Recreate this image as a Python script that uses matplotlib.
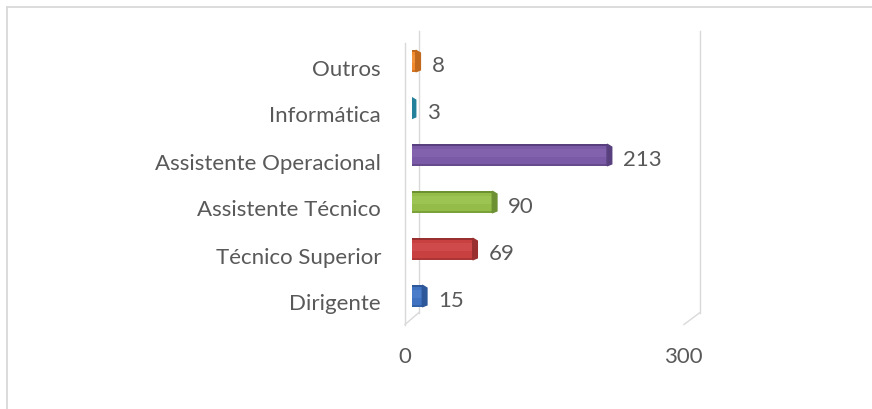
import matplotlib
matplotlib.use("Agg")
import matplotlib.pyplot as plt
from matplotlib.patches import Polygon
from matplotlib.lines import Line2D
from matplotlib.transforms import ScaledTranslation, blended_transform_factory

categories = ["Dirigente", "Técnico Superior", "Assistente Técnico",
              "Assistente Operacional", "Informática", "Outros"]
values = [15, 69, 90, 213, 3, 8]
x_ticks = [0, 300]

colors = ["#3f73c2", "#c94040", "#93bd48", "#7a59a6", "#34a3c2", "#f08a2c"]
dark = ["#2d5799", "#9a2f2f", "#6c9032", "#58407e", "#23809a", "#c0681c"]
light = ["#5585d0", "#d65656", "#a4cb5c", "#8a6bb4", "#4fb6d2", "#f59d4c"]

plt.rcParams["font.family"] = ["Lato", "DejaVu Sans"]
grey = "#595959"
wall = "#d9d9d9"
fs = 16

fig = plt.figure(figsize=(8.72, 4.09), dpi=100)
ax = fig.add_axes([412 / 872, 1 - 319.5 / 409, 280 / 872, 282 / 409])
ax.set_xlim(0, 300)
ax.set_ylim(-0.5, 5.5)
for s in ax.spines.values():
    s.set_visible(False)
ax.set_xticks([])
ax.set_yticks([])

def px(dx, dy=0):
    return ScaledTranslation(dx / 100, dy / 100, fig.dpi_scale_trans)

# walls of the 3d frame
bx = blended_transform_factory(ax.transData, ax.transAxes)
by = blended_transform_factory(ax.transAxes, ax.transData)
ax.add_line(Line2D([0, 0], [0, 1], color=wall, lw=1, transform=bx + px(-7, -5), clip_on=False))
ax.add_line(Line2D([0, 0], [0, 1], color=wall, lw=1, transform=bx + px(7, 7), clip_on=False))
ax.add_line(Line2D([300, 300], [0, 1], color=wall, lw=1, transform=bx + px(8, 7), clip_on=False))
for xv, a, b in [(0, -7, 7), (300, -8, 8)]:
    p0 = bx.transform((xv, 0))
    ax.add_line(Line2D([p0[0] + a, p0[0] + b], [p0[1] - 5, p0[1] + 7], color=wall, lw=1,
                       transform=None, clip_on=False))

# category labels
for i, c in enumerate(categories):
    ax.text(0, i, c, transform=by + px(-31, -14.5), ha="right", va="baseline",
            fontsize=fs, color=grey)

h = 0.46
for i, v in enumerate(values):
    ax.barh(i, v, left=-4, height=h, color=colors[i], zorder=3)
    ax.barh(i + h * 0.1, v, left=-4, height=h * 0.4, color=light[i], zorder=3.1, alpha=0.5, lw=0)
    ax.barh(i + h / 2 - 0.015, v, left=-4, height=0.03, color=dark[i], zorder=3.2, lw=0)
    ax.barh(i - h / 2 + 0.015, v, left=-4, height=0.03, color=dark[i], zorder=3.2, lw=0, alpha=0.6)
    cap = Polygon([(v - 4, i - h / 2), (v - 4, i + h / 2), (v + 1, i + h / 2 - 0.06),
                   (v + 1, i - h / 2 + 0.04)],
                  closed=True, color=dark[i], zorder=3.3)
    ax.add_patch(cap)
    ax.annotate(str(v), (v, i), xytext=(12 * 0.72, -11 * 0.72), textcoords="offset points",
                va="baseline", ha="left", fontsize=fs, color=grey)

for xv, dx in zip(x_ticks, [-7, -9]):
    ax.text(xv, 0, str(xv), transform=bx + px(dx, -43.5), ha="center", va="baseline",
            fontsize=fs, color=grey)

# outer chart border (only top/left edges fall inside the picture)
fig.add_artist(Line2D([7 / 872, 1], [1 - 7 / 409, 1 - 7 / 409], color=wall, lw=1.3))
fig.add_artist(Line2D([7 / 872, 7 / 872], [0, 1 - 7 / 409], color=wall, lw=1.3))

fig.savefig("out.png", dpi=100)
